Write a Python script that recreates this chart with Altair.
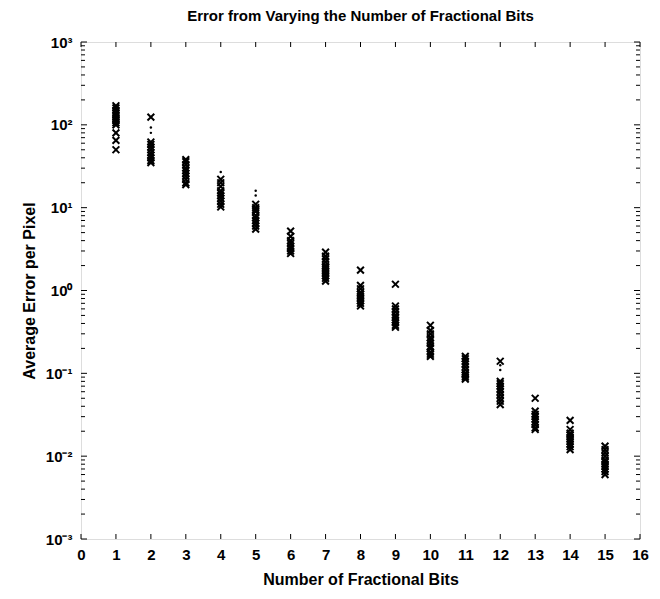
import altair as alt
import pandas as pd

# ---- data (x markers per number of fractional bits) ----
bits = list(range(1, 16))
err_b1 = [170, 160, 150, 140, 132, 125, 118, 112, 106, 100, 80, 65, 50]
err_b2 = [124, 62, 58, 54, 50, 46, 43, 40, 37, 35]
err_b3 = [38, 36, 33, 30, 28, 26, 24, 22, 20, 19]
err_b4 = [22, 20, 18, 16, 15, 14, 13, 12, 11, 10.2]
err_b5 = [11, 10, 9.5, 9, 8, 7.5, 7, 6.5, 6, 5.5]
err_b6 = [5.2, 4.5, 4.0, 3.7, 3.4, 3.2, 3.0, 2.8]
err_b7 = [2.9, 2.6, 2.4, 2.2, 2.0, 1.9, 1.8, 1.7, 1.6, 1.5, 1.4, 1.3]
err_b8 = [1.76, 1.15, 1.05, 0.95, 0.9, 0.85, 0.8, 0.75, 0.7, 0.65]
err_b9 = [1.19, 0.65, 0.6, 0.55, 0.5, 0.47, 0.44, 0.41, 0.38, 0.36]
err_b10 = [0.38, 0.33, 0.3, 0.27, 0.25, 0.23, 0.21, 0.2, 0.18, 0.17, 0.16]
err_b11 = [0.16, 0.15, 0.14, 0.13, 0.12, 0.11, 0.1, 0.095, 0.09, 0.085]
err_b12 = [0.14, 0.08, 0.075, 0.07, 0.065, 0.06, 0.055, 0.05, 0.046, 0.042]
err_b13 = [0.05, 0.035, 0.032, 0.03, 0.028, 0.026, 0.024, 0.022, 0.021]
err_b14 = [0.027, 0.021, 0.019, 0.018, 0.017, 0.016, 0.015, 0.014, 0.013, 0.012]
err_b15 = [0.0132, 0.012, 0.011, 0.01, 0.009, 0.0085, 0.008, 0.0075, 0.007, 0.0065, 0.006]

# small dot markers
dot_bits = [2, 2, 4, 5, 5, 12, 12]
dot_err = [93, 80, 27, 16, 14, 0.125, 0.11]

# axis ticks
x_ticks = list(range(0, 17))
y_major = [1e-3, 1e-2, 1e-1, 1e0, 1e1, 1e2, 1e3]
y_minor = [m * d for d in [1e-3, 1e-2, 1e-1, 1e0, 1e1, 1e2] for m in range(2, 10)]

all_err = [err_b1, err_b2, err_b3, err_b4, err_b5, err_b6, err_b7, err_b8,
           err_b9, err_b10, err_b11, err_b12, err_b13, err_b14, err_b15]
rows = []
for b, vals in zip(bits, all_err):
    for v in vals:
        rows.append({"bits": b, "err": v})
df = pd.DataFrame(rows)
dots = pd.DataFrame({"bits": dot_bits, "err": dot_err})

W, H = 559, 497
FONT = "Liberation Sans Narrow, Liberation Sans, Arial, sans-serif"
FS = 15

xscale = alt.Scale(domain=[0, 16], nice=False, zero=False)
yscale = alt.Scale(type="log", domain=[1e-3, 1e3], nice=False)

sup_expr = ("datum.value >= 999 ? '10³' : datum.value >= 99 ? '10²' : datum.value >= 9 ? '10¹' : "
            "datum.value >= 0.9 ? '10⁰' : datum.value >= 0.09 ? '10⁻¹' : datum.value >= 0.009 ? '10⁻²' : '10⁻³'")

x_axis = alt.Axis(values=x_ticks, title="Number of Fractional Bits", ticks=False, domain=False,
                  grid=False, labelPadding=8, titlePadding=9, format="d", labelOverlap=False,
                  labelFont=FONT, titleFont=FONT, labelFontSize=FS, titleFontSize=FS + 1,
                  labelFontWeight="bold", titleFontWeight="bold",
                  labelColor="black", titleColor="black", labelFlush=False)
y_axis = alt.Axis(values=y_major, title="Average Error per Pixel", ticks=False, domain=False,
                  grid=False, labelPadding=9, titlePadding=8, labelExpr=sup_expr,
                  labelOverlap=False, labelFlush=False,
                  labelFont=FONT, titleFont=FONT, labelFontSize=FS, titleFontSize=FS + 1,
                  labelFontWeight="bold", titleFontWeight="bold",
                  labelColor="black", titleColor="black")

base = alt.Chart(df).mark_point(
    shape="M-1,-1L1,1M1,-1L-1,1", filled=False, color="black", strokeWidth=2, size=46, opacity=1
).encode(
    x=alt.X("bits:Q", scale=xscale, axis=x_axis, title="Number of Fractional Bits"),
    y=alt.Y("err:Q", scale=yscale, axis=y_axis, title="Average Error per Pixel"),
)

dot_layer = alt.Chart(dots).mark_circle(color="black", size=6, opacity=1).encode(
    x=alt.X("bits:Q", scale=xscale, axis=x_axis, title="Number of Fractional Bits"),
    y=alt.Y("err:Q", scale=yscale, axis=y_axis, title="Average Error per Pixel"),
)

ymaj = pd.DataFrame({"v": y_major})
ymin = pd.DataFrame({"v": y_minor})
xt = pd.DataFrame({"v": x_ticks})

def yticks(data, length):
    enc_y = alt.Y("v:Q", scale=yscale, axis=y_axis, title="Average Error per Pixel")
    left = alt.Chart(data).mark_rule(color="black", strokeWidth=1).encode(
        y=enc_y, x=alt.value(0), x2=alt.value(length))
    right = alt.Chart(data).mark_rule(color="black", strokeWidth=1).encode(
        y=enc_y, x=alt.value(W - length), x2=alt.value(W))
    return left + right

enc_x = alt.X("v:Q", scale=xscale, axis=x_axis, title="Number of Fractional Bits")
bottom = alt.Chart(xt).mark_rule(color="black", strokeWidth=1).encode(
    x=enc_x, y=alt.value(H - 5), y2=alt.value(H))
top = alt.Chart(xt).mark_rule(color="black", strokeWidth=1).encode(
    x=enc_x, y=alt.value(0), y2=alt.value(5))

chart = alt.layer(
    base, yticks(ymaj, 6), yticks(ymin, 4), bottom, top, dot_layer
).properties(
    width=W, height=H,
    title=alt.TitleParams("Error from Varying the Number of Fractional Bits", fontSize=FS,
                          font=FONT, fontWeight="bold", offset=11, anchor="middle", color="black"),
    autosize=alt.AutoSizeParams(type="none"),
    padding={"left": 81, "top": 42, "right": 20, "bottom": 60},
).configure_view(
    stroke="black", strokeWidth=1.3
).configure(background="white")

chart.save("out.html", embed_options={"renderer": "svg", "actions": False})
